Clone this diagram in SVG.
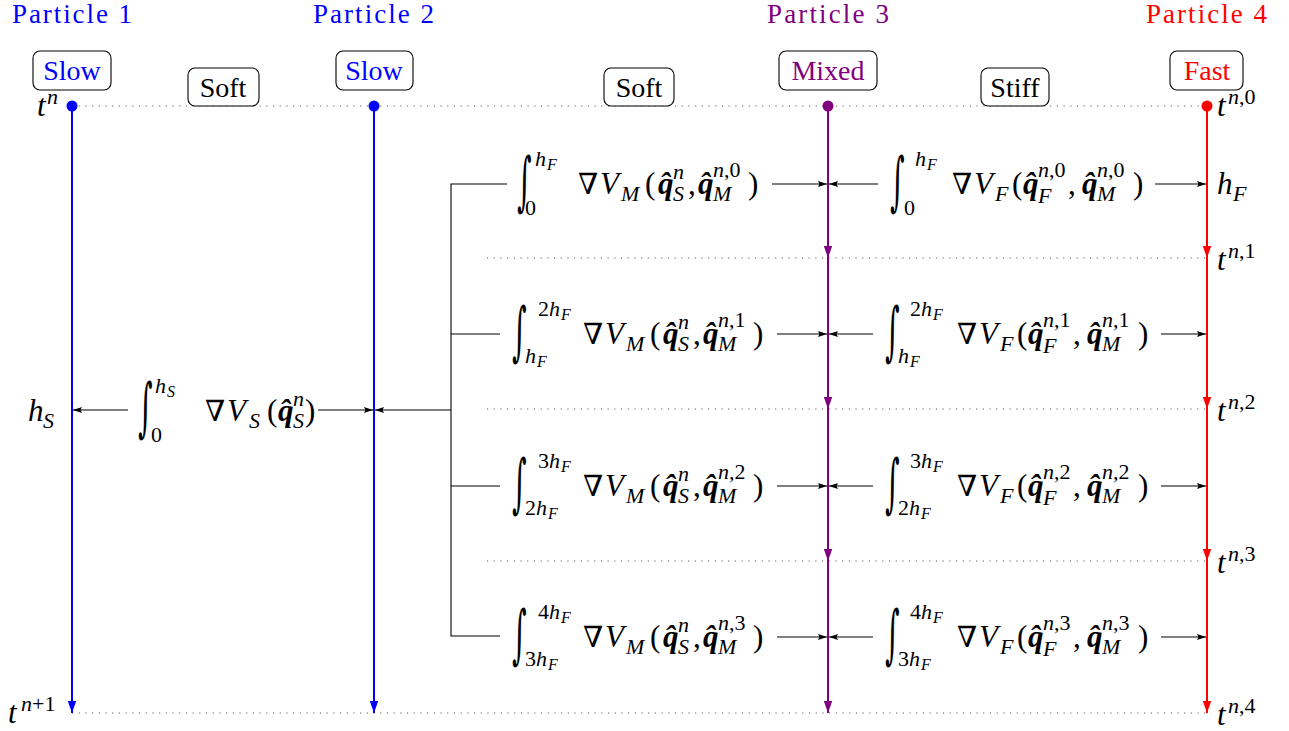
<svg xmlns="http://www.w3.org/2000/svg" width="1289" height="731" viewBox="0 0 1289 731">
<style>
.title{font-family:"Liberation Serif","DejaVu Serif",serif;font-size:27px}
.lbl{font-family:"Liberation Serif","DejaVu Serif",serif;font-size:28px;text-anchor:middle}
.box{fill:#fff;stroke:#000;stroke-width:1.1}
.m{font-family:"Liberation Serif","DejaVu Serif",serif;font-size:31px;fill:#000}
.i{font-style:italic}
.s{font-size:22px}
.ss{font-size:16px}
.q{font-weight:bold;font-style:italic}
.nab{font-family:"DejaVu Serif",serif;font-size:29px}
.int{font-family:"DejaVu Serif",serif;font-size:40px}
.dot{stroke:#555;stroke-width:1.1;stroke-dasharray:1.1 5.6;fill:none}
.ln{stroke:#000;stroke-width:1.1;fill:none}
.arr{stroke:#000;stroke-width:1.1;fill:none;marker-end:url(#ak)}
.blue{stroke:#0000ff;stroke-width:2;fill:none;marker-end:url(#ab)}
.purp{stroke:#800080;stroke-width:2;fill:none;marker-end:url(#ap)}
.red{stroke:#ff0000;stroke-width:2;fill:none;marker-end:url(#ar)}
</style>
<defs>
<marker id="ak" markerUnits="userSpaceOnUse" markerWidth="10" markerHeight="8" refX="9" refY="4" orient="auto"><path d="M0,1 L9,4 L0,7 L1.5,4 z" fill="#000"/></marker>
<marker id="ab" markerUnits="userSpaceOnUse" markerWidth="13" markerHeight="10" refX="12" refY="5" orient="auto"><path d="M0,0.8 L12,5 L0,9.2 z" fill="#0000ff"/></marker>
<marker id="ap" markerUnits="userSpaceOnUse" markerWidth="13" markerHeight="10" refX="12" refY="5" orient="auto"><path d="M0,0.8 L12,5 L0,9.2 z" fill="#800080"/></marker>
<marker id="ar" markerUnits="userSpaceOnUse" markerWidth="13" markerHeight="10" refX="12" refY="5" orient="auto"><path d="M0,0.8 L12,5 L0,9.2 z" fill="#ff0000"/></marker>
</defs>
<rect width="1289" height="731" fill="#fff"/>

<g id="timelines">
<line class="dot" x1="72" y1="106" x2="1207" y2="106"/>
<line class="dot" x1="487" y1="258" x2="1207" y2="258"/>
<line class="dot" x1="487" y1="409" x2="1207" y2="409"/>
<line class="dot" x1="487" y1="561" x2="1207" y2="561"/>
<line class="dot" x1="72" y1="713" x2="1207" y2="713"/>
</g>

<g id="connectors">
<line class="blue" x1="72" y1="106" x2="72" y2="713"/>
<line class="blue" x1="374" y1="106" x2="374" y2="713"/>
<line class="purp" x1="828" y1="106" x2="828" y2="258"/>
<line class="purp" x1="828" y1="258" x2="828" y2="409"/>
<line class="purp" x1="828" y1="409" x2="828" y2="561"/>
<line class="purp" x1="828" y1="561" x2="828" y2="713"/>
<line class="red" x1="1207" y1="106" x2="1207" y2="258"/>
<line class="red" x1="1207" y1="258" x2="1207" y2="409"/>
<line class="red" x1="1207" y1="409" x2="1207" y2="561"/>
<line class="red" x1="1207" y1="561" x2="1207" y2="713"/>
<circle cx="72" cy="106" r="5.5" fill="#0000ff"/>
<circle cx="374" cy="106" r="5.5" fill="#0000ff"/>
<circle cx="828" cy="106" r="5.5" fill="#800080"/>
<circle cx="1207" cy="106" r="5.5" fill="#ff0000"/>
<path class="ln" d="M507,184 H451 V636 H500 M451,334 H500 M451,486 H500"/>
<line class="arr" x1="451" y1="410" x2="375" y2="410"/>
<line class="arr" x1="128" y1="410" x2="73" y2="410"/>
<line class="arr" x1="318" y1="410" x2="373" y2="410"/>
<line class="arr" x1="772" y1="184" x2="827" y2="184"/>
<line class="arr" x1="777" y1="334" x2="827" y2="334"/>
<line class="arr" x1="777" y1="486" x2="827" y2="486"/>
<line class="arr" x1="777" y1="637" x2="827" y2="637"/>
<line class="arr" x1="878" y1="184" x2="829" y2="184"/>
<line class="arr" x1="873" y1="334" x2="829" y2="334"/>
<line class="arr" x1="873" y1="486" x2="829" y2="486"/>
<line class="arr" x1="873" y1="637" x2="829" y2="637"/>
<line class="arr" x1="1155" y1="184" x2="1206" y2="184"/>
<line class="arr" x1="1161" y1="334" x2="1206" y2="334"/>
<line class="arr" x1="1161" y1="486" x2="1206" y2="486"/>
<line class="arr" x1="1161" y1="637" x2="1206" y2="637"/>
</g>

<g id="particle1">
<text class="title" x="12" y="23" fill="#0000ff" textLength="120">Particle 1</text>
<rect class="box" x="33" y="51" width="78" height="39" rx="7"/>
<text class="lbl" x="72" y="80" fill="#0000ff">Slow</text>
</g>
<g id="particle2">
<text class="title" x="313" y="23" fill="#0000ff" textLength="121">Particle 2</text>
<rect class="box" x="336" y="51" width="77" height="39" rx="7"/>
<text class="lbl" x="374" y="80" fill="#0000ff">Slow</text>
</g>
<g id="particle3">
<text class="title" x="767" y="23" fill="#800080" textLength="122">Particle 3</text>
<rect class="box" x="779" y="51" width="98" height="39" rx="7"/>
<text class="lbl" x="828" y="80" fill="#800080">Mixed</text>
</g>
<g id="particle4">
<text class="title" x="1146" y="23" fill="#ff0000" textLength="121">Particle 4</text>
<rect class="box" x="1170" y="51" width="73" height="39" rx="7"/>
<text class="lbl" x="1207" y="80" fill="#ff0000">Fast</text>
</g>
<g id="soft1">
<rect class="box" x="188" y="68" width="71" height="38" rx="7"/>
<text class="lbl" x="223" y="97">Soft</text>
</g>
<g id="soft2">
<rect class="box" x="604" y="68" width="70" height="38" rx="7"/>
<text class="lbl" x="639" y="97">Soft</text>
</g>
<g id="stiff">
<rect class="box" x="981" y="68" width="68" height="38" rx="7"/>
<text class="lbl" x="1015" y="97">Stiff</text>
</g>

<g id="time-labels" class="m">
<text x="37" y="116"><tspan class="i">t</tspan><tspan class="s i" x="47" y="104">n</tspan></text>
<text x="8" y="723"><tspan class="i">t</tspan><tspan class="s" x="21" y="711"><tspan class="i">n</tspan>+1</tspan></text>
<text x="1217" y="116"><tspan class="i">t</tspan><tspan class="s" x="1228" y="104"><tspan class="i">n</tspan>,0</tspan></text>
<text x="1217" y="270"><tspan class="i">t</tspan><tspan class="s" x="1228" y="258"><tspan class="i">n</tspan>,1</tspan></text>
<text x="1217" y="421"><tspan class="i">t</tspan><tspan class="s" x="1228" y="409"><tspan class="i">n</tspan>,2</tspan></text>
<text x="1217" y="573"><tspan class="i">t</tspan><tspan class="s" x="1228" y="561"><tspan class="i">n</tspan>,3</tspan></text>
<text x="1217" y="725"><tspan class="i">t</tspan><tspan class="s" x="1228" y="713"><tspan class="i">n</tspan>,4</tspan></text>
<text x="1217" y="194"><tspan class="i">h</tspan><tspan class="s i" x="1233" y="201">F</tspan></text>
<text x="28" y="421"><tspan class="i">h</tspan><tspan class="s i" x="43" y="428">S</tspan></text>
</g>

<g id="slow-force" class="m">
<text class="int" transform="translate(138,410) scale(0.7,1.6)" y="12">∫</text>
<text><tspan class="s i" x="155" y="393">h</tspan><tspan class="ss i" x="167" y="397">S</tspan><tspan class="s" x="151" y="442">0</tspan></text>
<text><tspan class="nab" x="205" y="421">∇</tspan><tspan class="i" x="227" y="421">V</tspan><tspan class="s i" x="249" y="428">S</tspan><tspan x="267" y="421">(</tspan><tspan class="q" x="278" y="421">q&#x302;</tspan><tspan class="s i" x="293" y="428">S</tspan><tspan class="s i" x="293" y="406">n</tspan><tspan x="305" y="421">)</tspan></text>
</g>

<g id="mixed-force-1" class="m">
<text class="int" transform="translate(517,184) scale(0.7,1.6)" y="12">∫</text>
<text><tspan class="s i" x="535" y="166">h</tspan><tspan class="ss i" x="547" y="170">F</tspan><tspan class="s" x="525" y="215">0</tspan></text>
<text><tspan class="nab" x="578" y="194">∇</tspan><tspan class="i" x="600" y="194">V</tspan><tspan class="s i" x="621" y="201">M</tspan><tspan x="645" y="194">(</tspan><tspan class="q" x="658" y="194">q&#x302;</tspan><tspan class="s i" x="673" y="201">S</tspan><tspan class="s i" x="673" y="179">n</tspan><tspan x="688" y="194">,</tspan><tspan class="q" x="698" y="194">q&#x302;</tspan><tspan class="s i" x="713" y="201">M</tspan><tspan class="s" x="713" y="177"><tspan class="i">n</tspan>,0</tspan><tspan x="748" y="194">)</tspan></text>
</g>
<g id="mixed-force-2" class="m">
<text class="int" transform="translate(512,334) scale(0.7,1.6)" y="12">∫</text>
<text><tspan class="s" x="538" y="316">2<tspan class="i">h</tspan></tspan><tspan class="ss i" x="561" y="320">F</tspan><tspan class="s i" x="525" y="363">h</tspan><tspan class="ss i" x="537" y="367">F</tspan></text>
<text><tspan class="nab" x="583" y="344">∇</tspan><tspan class="i" x="605" y="344">V</tspan><tspan class="s i" x="626" y="351">M</tspan><tspan x="650" y="344">(</tspan><tspan class="q" x="663" y="344">q&#x302;</tspan><tspan class="s i" x="678" y="351">S</tspan><tspan class="s i" x="678" y="329">n</tspan><tspan x="693" y="344">,</tspan><tspan class="q" x="703" y="344">q&#x302;</tspan><tspan class="s i" x="718" y="351">M</tspan><tspan class="s" x="718" y="327"><tspan class="i">n</tspan>,1</tspan><tspan x="753" y="344">)</tspan></text>
</g>
<g id="mixed-force-3" class="m">
<text class="int" transform="translate(512,486) scale(0.7,1.6)" y="12">∫</text>
<text><tspan class="s" x="538" y="468">3<tspan class="i">h</tspan></tspan><tspan class="ss i" x="561" y="472">F</tspan><tspan class="s" x="525" y="515">2<tspan class="i">h</tspan></tspan><tspan class="ss i" x="548" y="519">F</tspan></text>
<text><tspan class="nab" x="583" y="496">∇</tspan><tspan class="i" x="605" y="496">V</tspan><tspan class="s i" x="626" y="503">M</tspan><tspan x="650" y="496">(</tspan><tspan class="q" x="663" y="496">q&#x302;</tspan><tspan class="s i" x="678" y="503">S</tspan><tspan class="s i" x="678" y="481">n</tspan><tspan x="693" y="496">,</tspan><tspan class="q" x="703" y="496">q&#x302;</tspan><tspan class="s i" x="718" y="503">M</tspan><tspan class="s" x="718" y="479"><tspan class="i">n</tspan>,2</tspan><tspan x="753" y="496">)</tspan></text>
</g>
<g id="mixed-force-4" class="m">
<text class="int" transform="translate(512,637) scale(0.7,1.6)" y="12">∫</text>
<text><tspan class="s" x="538" y="619">4<tspan class="i">h</tspan></tspan><tspan class="ss i" x="561" y="623">F</tspan><tspan class="s" x="525" y="666">3<tspan class="i">h</tspan></tspan><tspan class="ss i" x="548" y="670">F</tspan></text>
<text><tspan class="nab" x="583" y="647">∇</tspan><tspan class="i" x="605" y="647">V</tspan><tspan class="s i" x="626" y="654">M</tspan><tspan x="650" y="647">(</tspan><tspan class="q" x="663" y="647">q&#x302;</tspan><tspan class="s i" x="678" y="654">S</tspan><tspan class="s i" x="678" y="632">n</tspan><tspan x="693" y="647">,</tspan><tspan class="q" x="703" y="647">q&#x302;</tspan><tspan class="s i" x="718" y="654">M</tspan><tspan class="s" x="718" y="630"><tspan class="i">n</tspan>,3</tspan><tspan x="753" y="647">)</tspan></text>
</g>

<g id="fast-force-1" class="m">
<text class="int" transform="translate(890,184) scale(0.7,1.6)" y="12">∫</text>
<text><tspan class="s i" x="915" y="166">h</tspan><tspan class="ss i" x="927" y="170">F</tspan><tspan class="s" x="904" y="215">0</tspan></text>
<text><tspan class="nab" x="952" y="194">∇</tspan><tspan class="i" x="974" y="194">V</tspan><tspan class="s i" x="995" y="201">F</tspan><tspan x="1012" y="194">(</tspan><tspan class="q" x="1023" y="194">q&#x302;</tspan><tspan class="s i" x="1038" y="203">F</tspan><tspan class="s" x="1038" y="177"><tspan class="i">n</tspan>,0</tspan><tspan x="1068" y="194">,</tspan><tspan class="q" x="1082" y="194">q&#x302;</tspan><tspan class="s i" x="1097" y="201">M</tspan><tspan class="s" x="1097" y="177"><tspan class="i">n</tspan>,0</tspan><tspan x="1133" y="194">)</tspan></text>
</g>
<g id="fast-force-2" class="m">
<text class="int" transform="translate(885,334) scale(0.7,1.6)" y="12">∫</text>
<text><tspan class="s" x="910" y="316">2<tspan class="i">h</tspan></tspan><tspan class="ss i" x="933" y="320">F</tspan><tspan class="s i" x="898" y="363">h</tspan><tspan class="ss i" x="910" y="367">F</tspan></text>
<text><tspan class="nab" x="957" y="344">∇</tspan><tspan class="i" x="979" y="344">V</tspan><tspan class="s i" x="1000" y="351">F</tspan><tspan x="1017" y="344">(</tspan><tspan class="q" x="1028" y="344">q&#x302;</tspan><tspan class="s i" x="1043" y="353">F</tspan><tspan class="s" x="1043" y="327"><tspan class="i">n</tspan>,1</tspan><tspan x="1073" y="344">,</tspan><tspan class="q" x="1087" y="344">q&#x302;</tspan><tspan class="s i" x="1102" y="351">M</tspan><tspan class="s" x="1102" y="327"><tspan class="i">n</tspan>,1</tspan><tspan x="1138" y="344">)</tspan></text>
</g>
<g id="fast-force-3" class="m">
<text class="int" transform="translate(885,486) scale(0.7,1.6)" y="12">∫</text>
<text><tspan class="s" x="910" y="468">3<tspan class="i">h</tspan></tspan><tspan class="ss i" x="933" y="472">F</tspan><tspan class="s" x="898" y="515">2<tspan class="i">h</tspan></tspan><tspan class="ss i" x="921" y="519">F</tspan></text>
<text><tspan class="nab" x="957" y="496">∇</tspan><tspan class="i" x="979" y="496">V</tspan><tspan class="s i" x="1000" y="503">F</tspan><tspan x="1017" y="496">(</tspan><tspan class="q" x="1028" y="496">q&#x302;</tspan><tspan class="s i" x="1043" y="505">F</tspan><tspan class="s" x="1043" y="479"><tspan class="i">n</tspan>,2</tspan><tspan x="1073" y="496">,</tspan><tspan class="q" x="1087" y="496">q&#x302;</tspan><tspan class="s i" x="1102" y="503">M</tspan><tspan class="s" x="1102" y="479"><tspan class="i">n</tspan>,2</tspan><tspan x="1138" y="496">)</tspan></text>
</g>
<g id="fast-force-4" class="m">
<text class="int" transform="translate(885,637) scale(0.7,1.6)" y="12">∫</text>
<text><tspan class="s" x="910" y="619">4<tspan class="i">h</tspan></tspan><tspan class="ss i" x="933" y="623">F</tspan><tspan class="s" x="898" y="666">3<tspan class="i">h</tspan></tspan><tspan class="ss i" x="921" y="670">F</tspan></text>
<text><tspan class="nab" x="957" y="647">∇</tspan><tspan class="i" x="979" y="647">V</tspan><tspan class="s i" x="1000" y="654">F</tspan><tspan x="1017" y="647">(</tspan><tspan class="q" x="1028" y="647">q&#x302;</tspan><tspan class="s i" x="1043" y="656">F</tspan><tspan class="s" x="1043" y="630"><tspan class="i">n</tspan>,3</tspan><tspan x="1073" y="647">,</tspan><tspan class="q" x="1087" y="647">q&#x302;</tspan><tspan class="s i" x="1102" y="654">M</tspan><tspan class="s" x="1102" y="630"><tspan class="i">n</tspan>,3</tspan><tspan x="1138" y="647">)</tspan></text>
</g>
</svg>
